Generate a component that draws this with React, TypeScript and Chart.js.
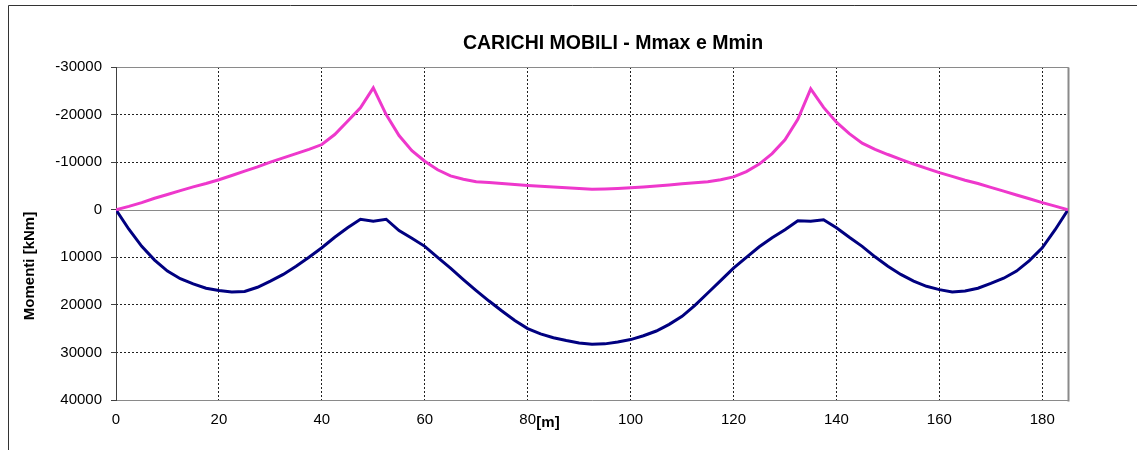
import React, { useEffect, useRef } from "react";
import { Chart, registerables } from "chart.js";

Chart.register(...registerables);

// Progressive [m]
const positions = [
  0, 2.5, 5, 7.5, 10, 12.5, 15, 17.5, 20, 22.5, 25, 27.5, 30, 32.5, 35, 37.5, 40, 42.5,
  45, 47.5, 50, 52.5, 55, 57.5, 60, 62.5, 65, 67.5, 70, 72.5, 75, 77.5, 80, 82.5, 85,
  87.5, 90, 92.5, 95, 97.5, 100, 102.5, 105, 107.5, 110, 112.5, 115, 117.5, 120, 122.5,
  125, 127.5, 130, 132.5, 135, 137.5, 140, 142.5, 145, 147.5, 150, 152.5, 155, 157.5,
  160, 162.5, 165, 167.5, 170, 172.5, 175, 177.5, 180, 182.5, 185,
];

// Mmin [kNm] (negative values, shown upward)
const mMin = [
  0, -700, -1500, -2400, -3200, -4000, -4800, -5500, -6300, -7200, -8100, -9000,
  -10000, -10900, -11800, -12700, -13700, -15800, -18600, -21400, -25600, -20000,
  -15600, -12400, -10200, -8400, -7100, -6400, -5900, -5700, -5500, -5300, -5100,
  -4950, -4800, -4600, -4450, -4300, -4350, -4450, -4600, -4800, -5000, -5200, -5450,
  -5650, -5900, -6300, -6900, -8000, -9600, -11800, -14700, -19000, -25400, -21500,
  -18400, -16000, -14000, -12700, -11600, -10600, -9600, -8700, -7800, -7000, -6200,
  -5500, -4700, -3900, -3100, -2300, -1500, -750, 0,
];

// Mmax [kNm]
const mMax = [
  0, 4100, 7700, 10600, 12900, 14500, 15600, 16500, 17000, 17300, 17200, 16300, 15000,
  13600, 11900, 10000, 8000, 5800, 3800, 2000, 2400, 2000, 4400, 6000, 7700, 10000,
  12300, 14700, 17000, 19200, 21300, 23300, 25000, 26100, 26900, 27500, 28000, 28300,
  28200, 27800, 27300, 26500, 25500, 24100, 22400, 20100, 17500, 14900, 12300, 10000,
  7800, 5900, 4200, 2300, 2400, 2100, 3800, 5800, 7700, 9900, 11900, 13600, 15000,
  16100, 16800, 17300, 17100, 16500, 15500, 14400, 12900, 10700, 8000, 4200, 0,
];

const xTickValues = [0, 20, 40, 60, 80, 100, 120, 140, 160, 180];
const yTickValues = [-30000, -20000, -10000, 0, 10000, 20000, 30000, 40000];

const titleText = "CARICHI MOBILI - Mmax e Mmin";
const yLabel = "Momenti [kNm]";
const xLabel = "[m]";

const FONT = "'Liberation Sans', Arial, sans-serif";

export default function App() {
  const ref = useRef<HTMLCanvasElement | null>(null);

  useEffect(() => {
    const canvas = ref.current;
    if (!canvas) return;

    const decor = {
      id: "decor",
      beforeDatasetsDraw(chart: any) {
        const { ctx, chartArea: a, scales } = chart;
        ctx.save();
        ctx.lineWidth = 1;
        ctx.strokeStyle = "#8a8a8a";
        const y0 = Math.round(scales.y.getPixelForValue(0)) + 0.5;
        ctx.beginPath();
        ctx.moveTo(a.left, y0);
        ctx.lineTo(a.right, y0);
        const t = Math.round(a.top) + 0.5;
        const b = Math.round(a.bottom) + 0.5;
        const r = Math.round(a.right) + 0.5;
        ctx.moveTo(a.left, t);
        ctx.lineTo(r, t);
        ctx.lineTo(r, b);
        ctx.lineTo(a.left, b);
        ctx.stroke();
        ctx.lineWidth = 2;
        ctx.beginPath();
        ctx.moveTo(r, t);
        ctx.lineTo(r, b + 1);
        ctx.stroke();
        ctx.lineWidth = 1;
        ctx.strokeStyle = "#404040";
        const l = Math.round(a.left) + 0.5;
        ctx.beginPath();
        ctx.moveTo(l, t - 0.5);
        ctx.lineTo(l, b + 0.5);
        ctx.stroke();
        ctx.restore();
      },
      afterDraw(chart: any) {
        const { ctx } = chart;
        ctx.save();
        ctx.strokeStyle = "#333333";
        ctx.lineWidth = 1;
        ctx.beginPath();
        ctx.moveTo(8.5, 450);
        ctx.lineTo(8.5, 5.5);
        ctx.lineTo(1137, 5.5);
        ctx.stroke();
        ctx.fillStyle = "#000";
        ctx.textAlign = "center";
        ctx.textBaseline = "middle";
        ctx.font = `bold 19.5px ${FONT}`;
        ctx.fillText(titleText, 613, 44);
        ctx.font = `bold 15px ${FONT}`;
        ctx.fillText(xLabel, 548, 423);
        ctx.translate(30, 266);
        ctx.rotate(-Math.PI / 2);
        ctx.fillText(yLabel, 0, 0);
        ctx.restore();
      },
    };

    const chart = new Chart(canvas, {
      type: "line",
      data: {
        datasets: [
          {
            label: "Mmin",
            data: positions.map((x, i) => ({ x, y: mMin[i] })),
            borderColor: "#ee38cc",
            borderWidth: 3,
            pointRadius: 0,
            tension: 0,
            fill: false,
          },
          {
            label: "Mmax",
            data: positions.map((x, i) => ({ x, y: mMax[i] })),
            borderColor: "#000080",
            borderWidth: 3,
            pointRadius: 0,
            tension: 0,
            fill: false,
          },
        ],
      },
      options: {
        animation: false,
        responsive: false,
        devicePixelRatio: 1,
        layout: { padding: { left: 0, right: 69, top: 67, bottom: 0 } },
        plugins: {
          legend: { display: false },
          title: { display: false },
          tooltip: { enabled: false },
        },
        scales: {
          x: {
            type: "linear",
            min: 0,
            max: 185,
            afterBuildTicks: (s: any) => {
              s.ticks = xTickValues.map((v) => ({ value: v }));
            },
            afterFit: (s: any) => {
              s.height = 50;
            },
            ticks: {
              color: "#000",
              font: { family: FONT, size: 15 },
              padding: 11,
              maxRotation: 0,
              callback: (v: any) => String(v),
            },
            grid: {
              color: (c: any) => (c.tick && c.tick.value === 0 ? "rgba(0,0,0,0)" : "#202020"),
              lineWidth: 1,
              drawTicks: false,
            },
            border: { display: false, dash: [2, 2] },
          },
          y: {
            type: "linear",
            reverse: true,
            min: -30000,
            max: 40000,
            afterBuildTicks: (s: any) => {
              s.ticks = yTickValues.map((v) => ({ value: v }));
            },
            afterFit: (s: any) => {
              s.width = 116;
            },
            ticks: {
              color: "#000",
              font: { family: FONT, size: 15 },
              padding: 9,
              callback: (v: any) => String(v),
            },
            grid: {
              color: (c: any) =>
                c.tick && (c.tick.value === 0 || c.tick.value === -30000 || c.tick.value === 40000)
                  ? "rgba(0,0,0,0)"
                  : "#202020",
              lineWidth: 1,
              drawTicks: true,
              tickLength: 5,
              tickColor: "#404040",
              tickBorderDash: [],
            },
            border: { display: false, dash: [2, 2] },
          },
        },
      },
      plugins: [decor],
    } as any);

    return () => chart.destroy();
  }, []);

  return (
    <div style={{ position: "absolute", left: 0, top: 0, width: 1137, height: 450, background: "#fff" }}>
      <canvas ref={ref} width={1137} height={450} />
    </div>
  );
}
